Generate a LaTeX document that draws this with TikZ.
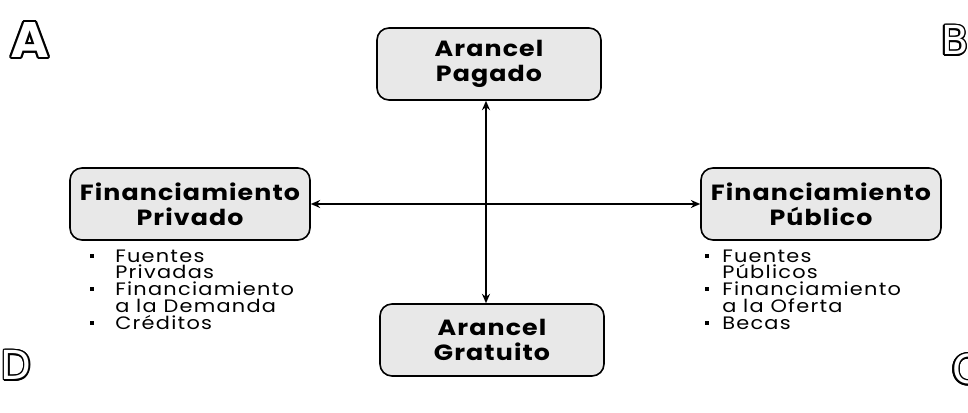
\documentclass[tikz,border=0pt]{standalone}
\usepackage{fontspec}
\setmainfont{Poppins}[LetterSpace=7, FakeStretch=1.16]
\newfontfamily\titlefont{Poppins}[LetterSpace=5, FakeStretch=1.15, UprightFont=* Bold]
\newfontfamily\bigletter{DejaVu Sans}
\usepackage{contour}
\contournumber{16}
\contourlength{1.1pt}
\usetikzlibrary{arrows.meta}
\tikzset{
  box/.style={draw=black, line width=1.2pt, rounded corners=9pt, fill=gray!18,
    minimum width=168pt, minimum height=54pt, align=center,
    font=\titlefont\fontsize{16.5}{19}\selectfont},
  conn/.style={line width=1.3pt, {Stealth[length=7pt,width=6pt]}-{Stealth[length=7pt,width=6pt]}},
  item/.style={anchor=west, inner sep=0pt, font=\fontsize{13.5}{15}\selectfont},
  bul/.style={fill=black, minimum size=3.5pt, inner sep=0pt},
  corner/.style={inner sep=0pt, font=\bigletter\fontsize{30}{30}\selectfont}
}
\begin{document}
\begin{tikzpicture}[x=0.75pt,y=-0.75pt]
\useasboundingbox (0,0) rectangle (968,413);
\node[box] (pag) at (489,64) {Arancel\\Pagado};
\node[box] (gra) at (492,340) {Arancel\\Gratuito};
\node[box, minimum width=180pt] (pri) at (190,204) {Financiamiento\\Privado};
\node[box, minimum width=180pt] (pub) at (821,204) {Financiamiento\\Público};
\draw[conn] (pag.south -| 486,0) -- (gra.north -| 486,0);
\draw[conn] (pri.east) -- (pub.west);
% left list
\foreach \y/\b/\t [count=\i] in {256/1/Fuentes, 272/0/Privadas, 289/1/Financiamiento, 306/0/a la Demanda, 323/1/Créditos}{
  \node[item] (l\i) at (115,\y) {\t};
  \ifnum\b=1 \node[bul] (lb\i) at (92,\y) {}; \fi
}
% right list
\foreach \y/\b/\t [count=\i] in {256/1/Fuentes, 272/0/Públicos, 289/1/Financiamiento, 306/0/a la Oferta, 323/1/Becas}{
  \node[item] (r\i) at (722,\y) {\t};
  \ifnum\b=1 \node[bul] (rb\i) at (707,\y) {}; \fi
}
% corner letters
\node[corner, font=\bigletter\bfseries\fontsize{36}{36}\selectfont] (A) at (30,41) {\contourlength{1.5pt}\contour{black}{\textcolor{white}{A}}};
\node[corner] (B) at (955,41) {\contour{black}{\textcolor{white}{B}}};
\node[corner] (D) at (16,366) {\contour{black}{\textcolor{white}{D}}};
\node[corner] (C) at (966,370) {\contour{black}{\textcolor{white}{C}}};
\end{tikzpicture}
\end{document}
